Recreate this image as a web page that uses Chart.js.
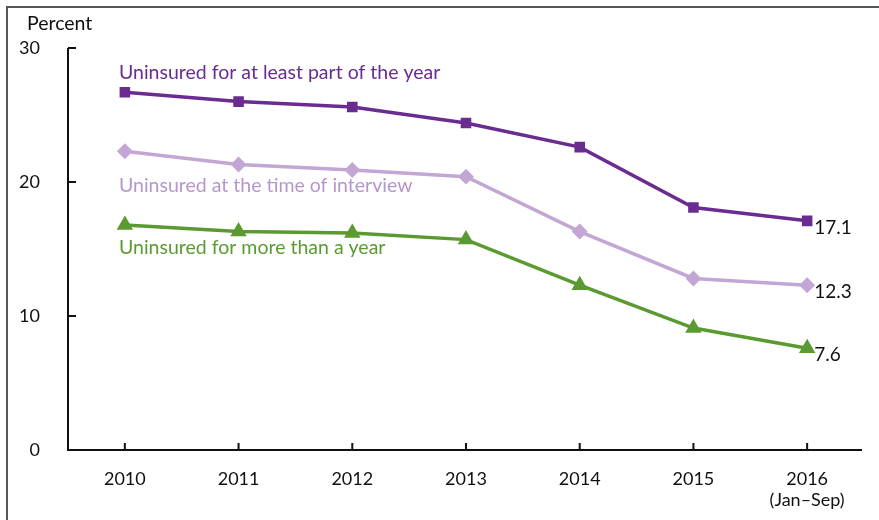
<!DOCTYPE html>
<html>
<head>
<meta charset="utf-8">
<script src="https://cdn.jsdelivr.net/npm/chart.js@4"></script>
<style>
  html, body { margin: 0; padding: 0; background: #fff; }
  #wrap { width: 879px; height: 520px; position: relative; }
</style>
</head>
<body>
<div id="wrap"><canvas id="chart" width="879" height="520"></canvas></div>
<script>
// data
const years = ['2010', '2011', '2012', '2013', '2014', '2015', ['2016', '(Jan–Sep)']];
const partOfYear = [26.7, 26.0, 25.6, 24.4, 22.6, 18.1, 17.1];
const atInterview = [22.3, 21.3, 20.9, 20.4, 16.3, 12.8, 12.3];
const moreThanYear = [16.8, 16.3, 16.2, 15.7, 12.3, 9.1, 7.6];
const yTicks = [0, 10, 20, 30];

const FONT = 'Lato, "Open Sans", sans-serif';
const PURPLE = '#6a2c91';
const LILAC = '#c3a6d4';
const GREEN = '#5a9a30';

// frame, inward ticks, series labels and end values
const decor = {
  id: 'decor',
  afterDraw(chart) {
    const ctx = chart.ctx;
    const x = chart.scales.x, y = chart.scales.y;
    const area = chart.chartArea;
    ctx.save();

    // picture frame (top + left only)
    ctx.strokeStyle = '#555';
    ctx.lineWidth = 2;
    ctx.beginPath();
    ctx.moveTo(7, 520); ctx.lineTo(7, 7); ctx.lineTo(879, 7);
    ctx.stroke();

    // axes
    ctx.strokeStyle = '#111';
    ctx.lineWidth = 2;
    ctx.beginPath();
    ctx.moveTo(area.left, y.getPixelForValue(30));
    ctx.lineTo(area.left, y.getPixelForValue(0));
    ctx.lineTo(area.right - 2, y.getPixelForValue(0));
    ctx.stroke();

    // inward ticks
    ctx.beginPath();
    yTicks.forEach(v => {
      const py = y.getPixelForValue(v);
      ctx.moveTo(area.left, py); ctx.lineTo(area.left + 8, py);
    });
    years.forEach((_, i) => {
      const px = x.getPixelForValue(i);
      const py = y.getPixelForValue(0);
      ctx.moveTo(px, py); ctx.lineTo(px, py - 7);
    });
    ctx.stroke();

    ctx.font = '19.5px ' + FONT;
    ctx.textBaseline = 'middle';
    ctx.textAlign = 'left';
    ctx.fillStyle = '#111';
    ctx.fillText('Percent', 27, 24);

    ctx.fillStyle = PURPLE;
    ctx.fillText('Uninsured for at least part of the year', 119, 73);
    ctx.fillStyle = '#b597cb';
    ctx.fillText('Uninsured at the time of interview', 119, 186);
    ctx.fillStyle = GREEN;
    ctx.fillText('Uninsured for more than a year', 119, 248);

    // end values
    ctx.font = '19px ' + FONT;
    ctx.fillStyle = '#111';
    const last = years.length - 1;
    [partOfYear, atInterview, moreThanYear].forEach(s => {
      const px = x.getPixelForValue(last) + 7;
      const py = y.getPixelForValue(s[last]) + 7;
      ctx.fillText(s[last].toFixed(1), px, py);
    });
    ctx.restore();
  }
};

new Chart(document.getElementById('chart'), {
  type: 'line',
  data: {
    labels: years,
    datasets: [
      {
        label: 'Uninsured for at least part of the year',
        data: partOfYear,
        borderColor: PURPLE, backgroundColor: PURPLE,
        borderWidth: 3.5, pointStyle: 'rect', pointRadius: 5, tension: 0
      },
      {
        label: 'Uninsured at the time of interview',
        data: atInterview,
        borderColor: LILAC, backgroundColor: LILAC,
        borderWidth: 3.5, pointStyle: 'rectRot', pointRadius: 5.5, tension: 0
      },
      {
        label: 'Uninsured for more than a year',
        data: moreThanYear,
        borderColor: GREEN, backgroundColor: GREEN,
        borderWidth: 3.5, pointStyle: 'triangle', pointRadius: 6, tension: 0
      }
    ]
  },
  options: {
    responsive: false,
    animation: false,
    layout: { padding: { left: 0, right: 15, top: 48, bottom: 0 } },
    plugins: { legend: { display: false }, tooltip: { enabled: false } },
    scales: {
      x: {
        offset: true,
        grid: { display: false },
        border: { display: false },
        ticks: {
          color: '#111', font: { family: FONT, size: 18 }, padding: 10,
          maxRotation: 0, autoSkip: false
        },
        afterFit(scale) { scale.height = 70; }
      },
      y: {
        min: 0, max: 30,
        grid: { display: false },
        border: { display: false },
        afterBuildTicks(scale) { scale.ticks = yTicks.map(v => ({ value: v })); },
        ticks: { color: '#111', font: { family: FONT, size: 18 }, padding: 20 },
        afterFit(scale) { scale.width = 68; }
      }
    }
  },
  plugins: [decor]
});
</script>
</body>
</html>
